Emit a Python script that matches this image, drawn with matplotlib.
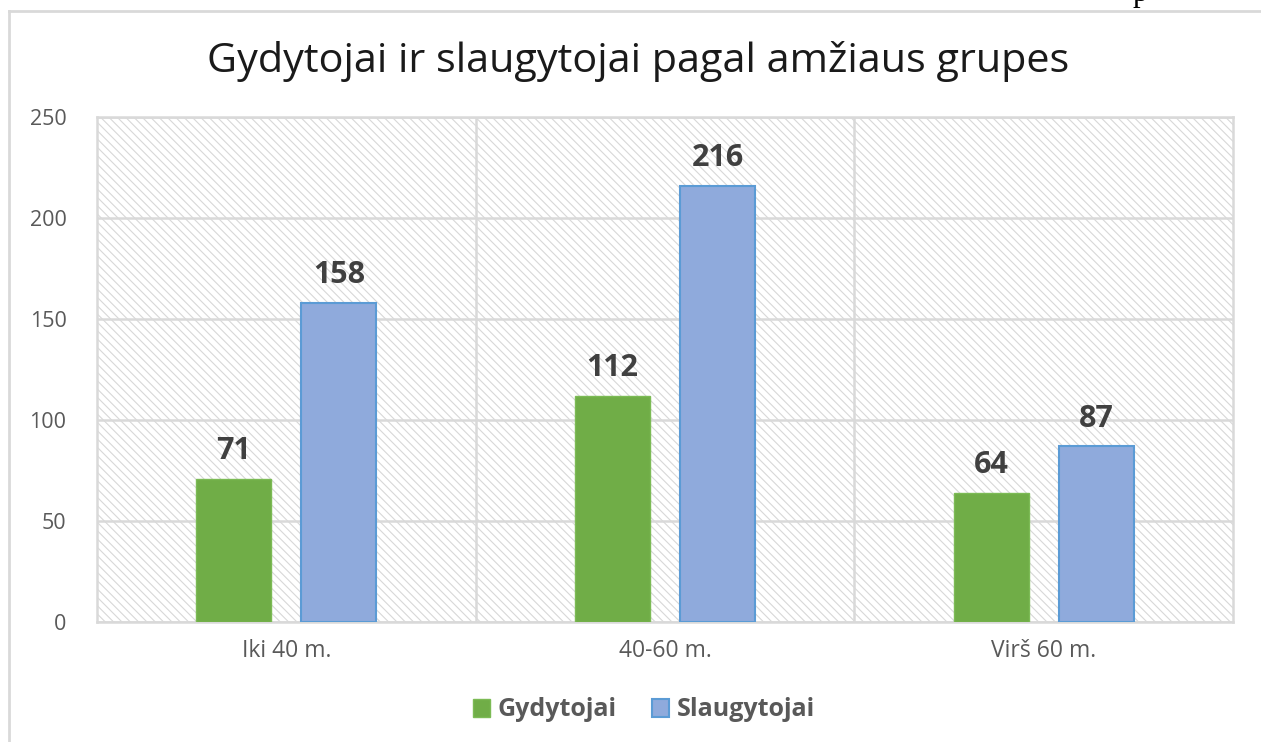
import matplotlib
matplotlib.use("Agg")
import matplotlib.pyplot as plt
from matplotlib.patches import Rectangle
from matplotlib.lines import Line2D
import numpy as np

categories = ["Iki 40 m.", "40-60 m.", "Virš 60 m."]
gydytojai = [71, 112, 64]
slaugytojai = [158, 216, 87]
series_names = ["Gydytojai", "Slaugytojai"]
title = "Gydytojai ir slaugytojai pagal amžiaus grupes"
yticks = [0, 50, 100, 150, 200, 250]

plt.rcParams['font.family'] = ['Open Sans', 'DejaVu Sans']
plt.rcParams['hatch.linewidth'] = 0.8

fig = plt.figure(figsize=(12.61, 7.42), dpi=100)
fig.patch.set_facecolor('white')
ax = fig.add_axes([97/1261, 1-622/742, (1233-97)/1261, (622-117)/742])

# hatched background
ax.set_facecolor('white')
bg = Rectangle((0, 0), 1, 1, transform=ax.transAxes, facecolor='white',
               edgecolor='#D8D8D8', hatch='\\' * 4, linewidth=0, zorder=0)
ax.add_patch(bg)

x = np.arange(len(categories))
w = 0.198
off = 0.139
green = '#70AD47'
blue_fill = '#8FAADC'
blue_edge = '#5B9BD5'
b1 = ax.bar(x - off, gydytojai, w, color=green, edgecolor='#7CBB55', linewidth=1.0, zorder=3, label=series_names[0])
b2 = ax.bar(x + off, slaugytojai, w, color=blue_fill, edgecolor=blue_edge, linewidth=1.5, zorder=3, label=series_names[1])

for bars, vals in [(b1, gydytojai), (b2, slaugytojai)]:
    for r, v in zip(bars, vals):
        ax.annotate(str(v), (r.get_x() + r.get_width()/2, v), xytext=(0, 9),
                    textcoords='offset points', ha='center', va='bottom',
                    fontsize=22, fontweight='bold', color='#404040')

ax.set_xlim(-0.5, 2.5)
ax.set_ylim(0, 250)
ax.set_yticks(yticks)
ax.set_yticklabels([str(t) for t in yticks])
ax.set_xticks(x)
ax.set_xticklabels(categories)
ax.tick_params(axis='both', length=0, labelcolor='#595959')
ax.tick_params(axis='y', pad=22, labelsize=15.5)
ax.tick_params(axis='x', pad=12, labelsize=16.5)

for yv in yticks:
    ax.axhline(yv, color='#D9D9D9', linewidth=1.8, zorder=1)
for xv in [0.5, 1.5]:
    ax.axvline(xv, color='#D9D9D9', linewidth=1.8, zorder=1)
for s in ax.spines.values():
    s.set_color('#D9D9D9')
    s.set_linewidth(1.8)

fig.text(638/1261, 1-62/742, title, ha='center', va='center', fontsize=29.8, color='#1a1a1a')

leg = fig.legend(handles=[b1, b2], labels=series_names, loc='center',
                 bbox_to_anchor=(644/1261, 1-710/742), ncol=2, frameon=False,
                 prop={'size': 18, 'weight': 'bold'}, handlelength=0.7, handleheight=0.7,
                 handletextpad=0.3, columnspacing=1.4)
for t in leg.get_texts():
    t.set_color('#595959')

# outer chart frame (partially visible)
fig.add_artist(Line2D([9/1261, 9/1261], [0, 1-11/742], transform=fig.transFigure, color='#D9D9D9', linewidth=2))
fig.add_artist(Line2D([9/1261, 1], [1-11/742, 1-11/742], transform=fig.transFigure, color='#D9D9D9', linewidth=2))
fig.text(1140/1261, 1+6/742, 'p', ha='center', va='center', fontsize=22, family='Liberation Serif', color='black')

fig.savefig('out.png', dpi=100, facecolor='white')
